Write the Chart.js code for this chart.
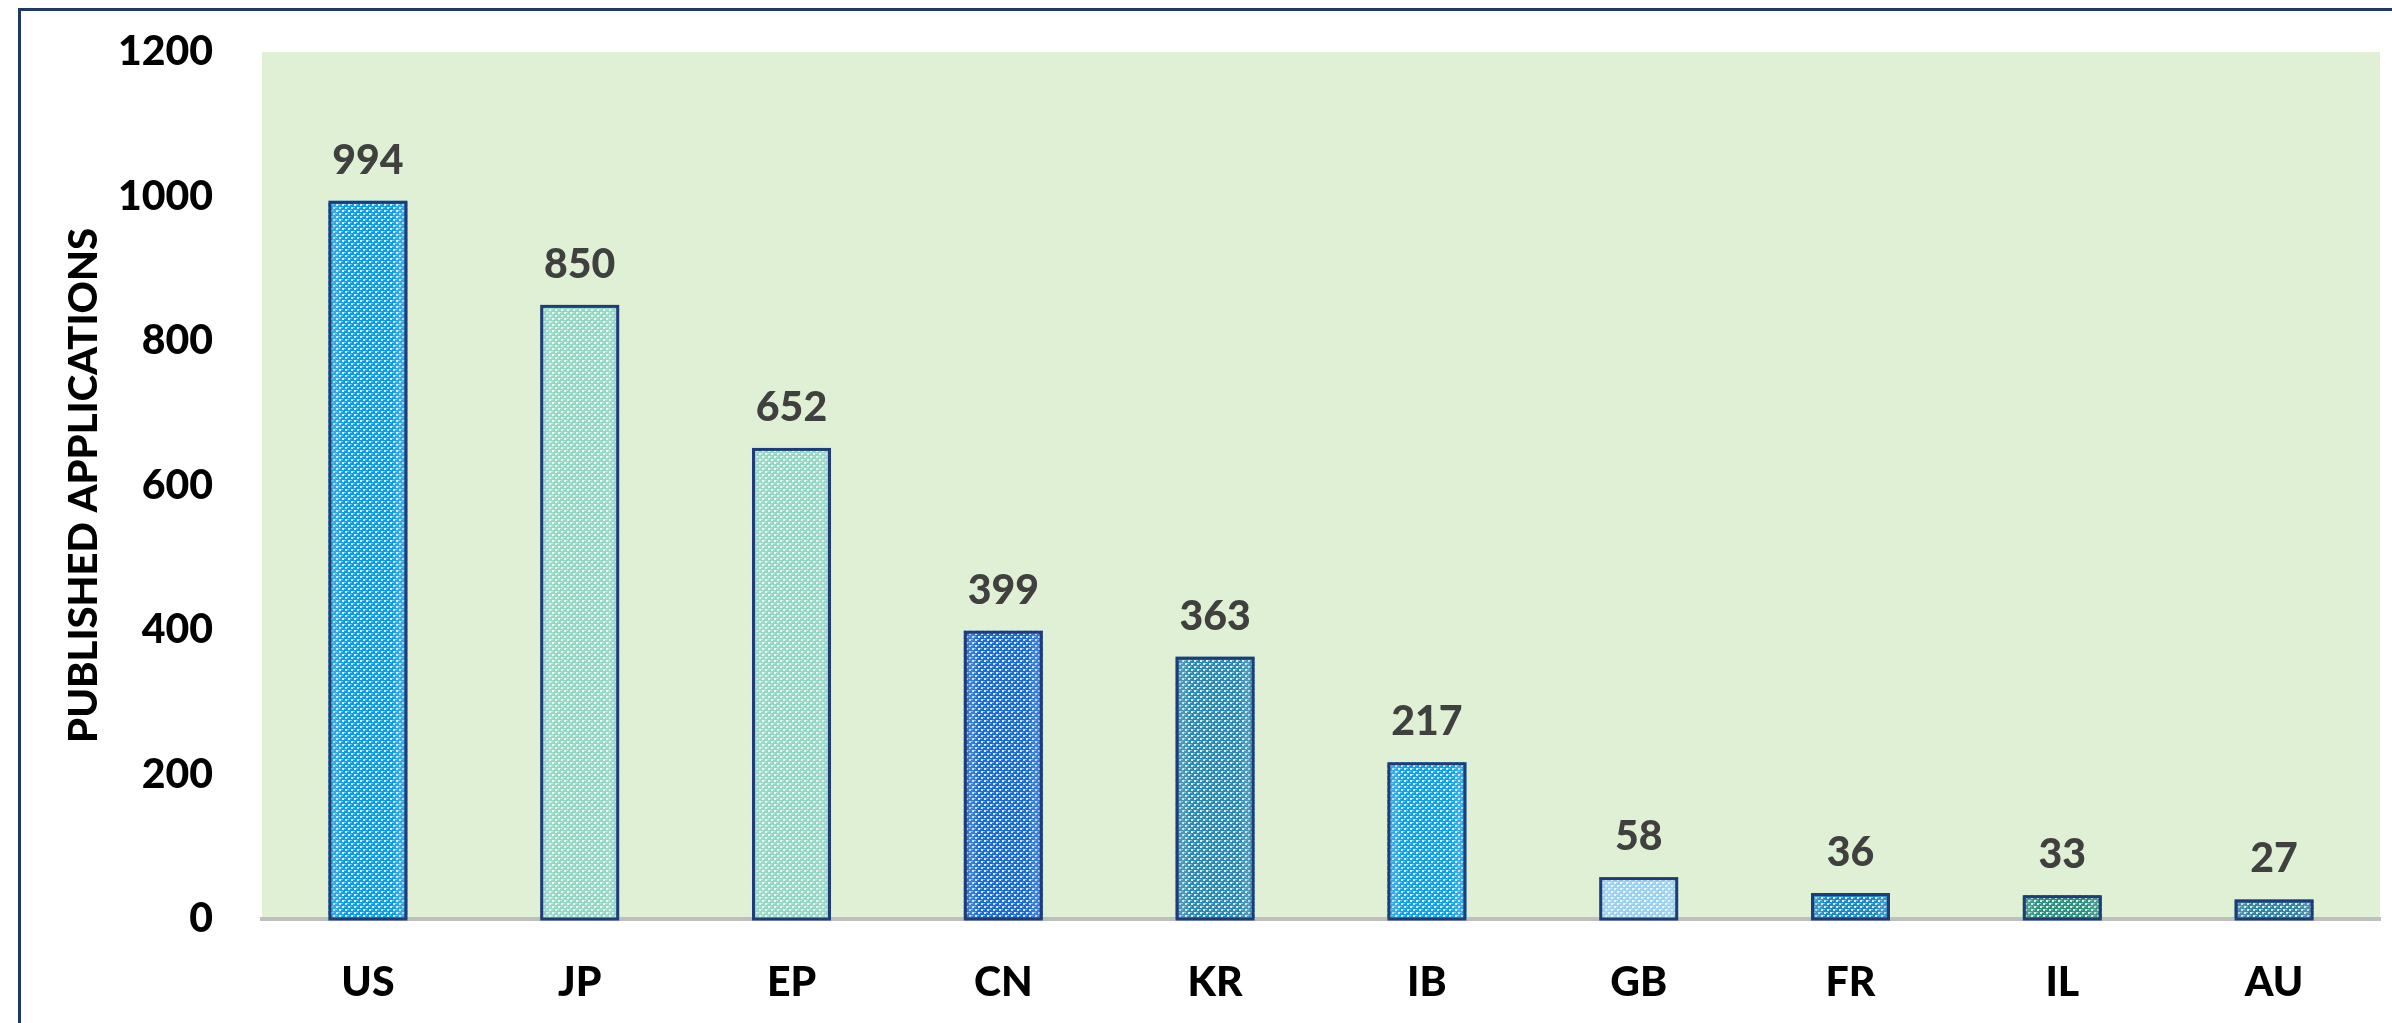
<!DOCTYPE html>
<html>
<head>
<meta charset="utf-8">
<script src="https://cdn.jsdelivr.net/npm/chart.js@4.4.1/dist/chart.umd.min.js"></script>
<style>
  html, body { margin: 0; padding: 0; background: #ffffff; }
  #wrap { width: 2392px; height: 1023px; position: relative; }
</style>
</head>
<body>
<div id="wrap"><canvas id="patentChart" width="2392" height="1023"></canvas></div>
<script>
// datos del gráfico
const offices = ['US', 'JP', 'EP', 'CN', 'KR', 'IB', 'GB', 'FR', 'IL', 'AU'];
const published = [994, 850, 652, 399, 363, 217, 58, 36, 33, 27];
const yTicks = [0, 200, 400, 600, 800, 1000, 1200];

// color base de cada barra (trama cuadriculada sobre este color)
const barColors = ['#0a9de6', '#92d7c2', '#92d7c2', '#186cd4', '#2b8ab3', '#0fa1e8', '#98d1ef', '#1c89c5', '#2c917d', '#3184a4'];
const edgeColors = ['#2a8fd0', '#62b8bd', '#62b8bd', '#1b5fc0', '#2a7ea0', '#2a90d0', '#6fb8e0', '#1d78b0', '#2a7d70', '#2c7594'];

function makePattern(base) {
    const tile = document.createElement('canvas');
    tile.width = 6;
    tile.height = 6;
    const t = tile.getContext('2d');
    t.fillStyle = base;
    t.fillRect(0, 0, 6, 6);
    t.fillStyle = 'rgba(255,255,255,0.85)';
    // cuadritos blancos en damero
    t.fillRect(0, 0, 2, 2);
    t.fillRect(3, 3, 2, 2);
    t.fillStyle = 'rgba(255,255,255,0.45)';
    t.fillRect(2, 0, 1, 1);
    t.fillRect(0, 3, 1, 1);
    t.fillRect(5, 3, 1, 1);
    t.fillRect(3, 0, 1, 1);
    const ctx = document.createElement('canvas').getContext('2d');
    return ctx.createPattern(tile, 'repeat');
}

const plotBackground = {
    id: 'plotBackground',
    beforeDraw(chart) {
        const { ctx, chartArea } = chart;
        ctx.save();
        ctx.fillStyle = '#dff0d4';
        ctx.fillRect(chartArea.left, chartArea.top, chartArea.right - chartArea.left, chartArea.bottom - chartArea.top);
        ctx.restore();
    }
};

// sombreado suave en los bordes de cada barra + etiquetas de valor
const barExtras = {
    id: 'barExtras',
    afterDatasetsDraw(chart) {
        const { ctx } = chart;
        const meta = chart.getDatasetMeta(0);
        ctx.save();
        meta.data.forEach((bar, i) => {
            const left = bar.x - bar.width / 2;
            const right = bar.x + bar.width / 2;
            const g = ctx.createLinearGradient(left, 0, right, 0);
            g.addColorStop(0, edgeColors[i]);
            g.addColorStop(0.18, 'rgba(255,255,255,0)');
            g.addColorStop(0.82, 'rgba(255,255,255,0)');
            g.addColorStop(1, edgeColors[i]);
            ctx.globalAlpha = 0.55;
            ctx.fillStyle = g;
            ctx.fillRect(left + 2, bar.y + 2, bar.width - 4, bar.base - bar.y - 2);
            ctx.globalAlpha = 1;
            ctx.strokeStyle = '#1f3c78';
            ctx.lineWidth = 3;
            ctx.strokeRect(left + 1.5, bar.y + 1.5, bar.width - 3, bar.base - bar.y - 1.5);

            ctx.fillStyle = '#404040';
            ctx.font = '900 41px Lato';
            ctx.textAlign = 'center';
            ctx.textBaseline = 'alphabetic';
            ctx.fillText(String(published[i]), bar.x, bar.y - 27);
        });
        ctx.restore();
    }
};

const outerFrame = {
    id: 'outerFrame',
    afterDraw(chart) {
        const { ctx } = chart;
        ctx.save();
        ctx.strokeStyle = '#1f3864';
        ctx.lineWidth = 3;
        ctx.beginPath();
        ctx.moveTo(19.5, 1023);
        ctx.lineTo(19.5, 9.5);
        ctx.lineTo(2392, 9.5);
        ctx.stroke();
        ctx.restore();
    }
};

const ctx = document.getElementById('patentChart').getContext('2d');
const patentChart = new Chart(ctx, {
    type: 'bar',
    data: {
        labels: offices,
        datasets: [{
            label: 'Published applications',
            data: published,
            backgroundColor: barColors.map(makePattern),
            borderWidth: 0,
            barPercentage: 0.373,
            categoryPercentage: 1
        }]
    },
    options: {
        responsive: false,
        animation: false,
        layout: { padding: { left: 0, right: 12, top: 52, bottom: 0 } },
        plugins: {
            legend: { display: false },
            tooltip: { enabled: false }
        },
        scales: {
            x: {
                grid: { display: false, drawTicks: false },
                border: { display: true, color: '#bfbfbf', width: 4 },
                ticks: {
                    color: '#000000',
                    font: { family: 'Lato', size: 41, weight: '900' },
                    padding: 39,
                    maxRotation: 0
                },
                afterFit(scale) { scale.height = 104; }
            },
            y: {
                min: 0,
                max: 1200,
                afterBuildTicks(scale) { scale.ticks = yTicks.map(v => ({ value: v })); },
                grid: { display: false, drawTicks: false },
                border: { display: false },
                ticks: {
                    color: '#000000',
                    font: { family: 'Lato', size: 41, weight: '900' },
                    padding: 49,
                    callback: (v) => String(v)
                },
                title: {
                    display: true,
                    text: 'PUBLISHED APPLICATIONS',
                    color: '#000000',
                    font: { family: 'Lato', size: 40, weight: '900' },
                    padding: { top: 60, bottom: 0 }
                },
                afterFit(scale) {
                    scale.width = 262;
                    scale.paddingTop = 0;
                    scale.paddingBottom = 0;
                }
            }
        }
    },
    plugins: [plotBackground, barExtras, outerFrame]
});
</script>
</body>
</html>
